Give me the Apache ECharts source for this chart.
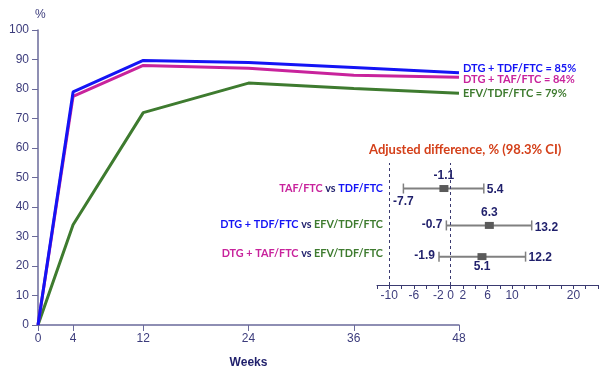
<!DOCTYPE html>
<html><head><meta charset="utf-8">
<script src="https://cdn.jsdelivr.net/npm/echarts@6/dist/echarts.min.js"></script>
<style>html,body{margin:0;padding:0;background:#fff}#c{width:610px;height:374px}</style>
</head><body><div id="c"></div>
<script>
// ---- data ----
const weeks = [0, 4, 12, 24, 36, 48];
const weekTicks = [0, 4, 12, 24, 36, 48];
const dtgTdf = [0, 79, 89.7, 89, 87.3, 85.5];
const dtgTaf = [0, 77.5, 88, 87, 84.7, 84];
const efv = [0, 34, 72, 82, 80.2, 78.6];
const seriesNames = ['DTG + TDF/FTC = 85%', 'DTG + TAF/FTC = 84%', 'EFV/TDF/FTC = 79%'];

const diffTitle = 'Adjusted difference, % (98.3% CI)';
const diffEst = [-1.1, 6.3, 5.1];
const diffLow = [-7.7, -0.7, -1.9];
const diffHigh = [5.4, 13.2, 12.2];
const diffRows = [3.4, 2.1, 1];
const diffTickLabels = [-10, -6, -2, 0, 2, 6, 10, 20];
const refLines = [-10, 0];
const rowLeft = [['TAF/FTC', 'm'], ['DTG + TDF/FTC', 'b'], ['DTG + TAF/FTC', 'm']];
const rowRight = [['TDF/FTC', 'b'], ['EFV/TDF/FTC', 'g'], ['EFV/TDF/FTC', 'g']];
const estLabelPos = ['top', 'top', 'bottom'];
const lowLabelPos = ['bottom', 'left', 'left'];

// ---- styles ----
const BLUE = '#1414f5', MAG = '#c8239c', GREEN = '#3e7b2f', NAVY = '#1f1f6b', AXC = '#3c3c7c';
const CAL = 'Lato, "Open Sans", sans-serif';
const ARI = '"Liberation Sans", Arial, sans-serif';

const chart = echarts.init(document.getElementById('c'), null, {renderer: 'canvas'});

function lineSeries(name, data, color, offY) {
  return {
    name, type: 'line', xAxisIndex: 0, yAxisIndex: 0,
    data: weeks.map((w, i) => [w, data[i]]),
    symbol: 'none', lineStyle: {color, width: 3}, itemStyle: {color},
    animation: false, z: 3,
    endLabel: {show: true, formatter: name, color, fontFamily: CAL, fontWeight: 'bold',
      fontSize: 11, distance: 4, offset: [0, offY]}
  };
}

const forestData = diffEst.map((e, i) => [diffLow[i], diffHigh[i], e, diffRows[i], i]);
const numStyle = {fill: NAVY, font: 'bold 12px ' + ARI};

function renderForest(params, api) {
  const i = api.value(4);
  const row = api.value(3);
  const lo = api.coord([api.value(0), row]);
  const hi = api.coord([api.value(1), row]);
  const es = api.coord([api.value(2), row]);
  const left = api.coord([-12, row]);
  const ch = [];
  ch.push({type: 'line', shape: {x1: lo[0], y1: lo[1], x2: hi[0], y2: hi[1]}, style: {stroke: '#808080', lineWidth: 2}});
  ch.push({type: 'line', shape: {x1: lo[0], y1: lo[1] - 5, x2: lo[0], y2: lo[1] + 5}, style: {stroke: '#808080', lineWidth: 1.5}});
  ch.push({type: 'line', shape: {x1: hi[0], y1: hi[1] - 5, x2: hi[0], y2: hi[1] + 5}, style: {stroke: '#808080', lineWidth: 1.5}});
  ch.push({type: 'rect', shape: {x: es[0] - 4.5, y: es[1] - 3.5, width: 9, height: 7}, style: {fill: '#5a5a5a'}});
  const ep = estLabelPos[i];
  ch.push({type: 'text', x: es[0], y: ep === 'top' ? es[1] - 13 : es[1] + 10,
    style: Object.assign({text: diffEst[i].toFixed(1), align: 'center', verticalAlign: 'middle'}, numStyle)});
  const lp = lowLabelPos[i];
  if (lp === 'bottom') {
    ch.push({type: 'text', x: lo[0], y: lo[1] + 13,
      style: Object.assign({text: diffLow[i].toFixed(1), align: 'center', verticalAlign: 'middle'}, numStyle)});
  } else {
    ch.push({type: 'text', x: lo[0] - 4, y: lo[1] - 1,
      style: Object.assign({text: diffLow[i].toFixed(1), align: 'right', verticalAlign: 'middle'}, numStyle)});
  }
  ch.push({type: 'text', x: hi[0] + 3, y: hi[1] + (i === 1 ? 2 : 1),
    style: Object.assign({text: diffHigh[i].toFixed(1), align: 'left', verticalAlign: 'middle'}, numStyle)});
  const L = rowLeft[i], R = rowRight[i];
  const f = 'bold 12px ' + CAL;
  ch.push({type: 'text', x: left[0] + 6, y: left[1] - (i === 2 ? 4 : 0) - (i === 1 ? 1 : 0), scaleX: 0.9,
    style: {text: '{' + L[1] + '|' + L[0] + '} {n|vs} {' + R[1] + '|' + R[0] + '}',
      align: 'right', verticalAlign: 'middle', font: f,
      rich: {m: {fill: MAG, font: f}, b: {fill: BLUE, font: f}, g: {fill: GREEN, font: f}, n: {fill: NAVY, font: f}}}});
  return {type: 'group', children: ch};
}

chart.setOption({
  animation: false,
  backgroundColor: '#fff',
  title: {text: diffTitle, left: 364, top: 138,
    textStyle: {color: '#d4401a', fontFamily: CAL, fontWeight: 'bold', fontSize: 13}},
  grid: [
    {left: 38, top: 30, width: 421, height: 301},
    {left: 377, top: 163, width: 221, height: 122}
  ],
  xAxis: [
    {type: 'value', gridIndex: 0, min: 0, max: 48,
      name: 'Weeks', nameLocation: 'middle', nameGap: 32,
      nameTextStyle: {color: NAVY, fontFamily: ARI, fontWeight: 'bold', fontSize: 12},
      axisLine: {lineStyle: {color: '#6a6a9a', width: 1.5}},
      axisTick: {show: true, length: 6, customValues: weekTicks, lineStyle: {color: '#6a6a9a'}},
      axisLabel: {customValues: weekTicks, color: AXC, fontFamily: ARI, fontSize: 12, margin: 8},
      splitLine: {show: false}},
    {type: 'value', gridIndex: 1, min: -12, max: 24, interval: 2,
      axisLine: {onZero: false, lineStyle: {color: '#3a3a70', width: 1}},
      axisTick: {show: true, length: 4, lineStyle: {color: '#3a3a70'}},
      axisLabel: {customValues: diffTickLabels, color: AXC, fontFamily: ARI, fontSize: 12, margin: 5},
      splitLine: {show: false}}
  ],
  yAxis: [
    {type: 'value', gridIndex: 0, min: 0, max: 100, interval: 10,
      name: '%', nameLocation: 'end', nameGap: 9,
      nameTextStyle: {color: AXC, fontFamily: ARI, fontSize: 12, align: 'left', padding: [0, 0, 0, -3]},
      axisLine: {show: true, lineStyle: {color: '#6a6a9a', width: 1.5}},
      axisTick: {show: true, length: 6, lineStyle: {color: '#6a6a9a'}},
      axisLabel: {color: AXC, fontFamily: ARI, fontSize: 12, margin: 9},
      splitLine: {show: false}},
    {type: 'value', gridIndex: 1, min: 0, max: 4.3, show: false}
  ],
  series: [
    lineSeries(seriesNames[2], efv, GREEN, 0),
    lineSeries(seriesNames[1], dtgTaf, MAG, 2.5),
    lineSeries(seriesNames[0], dtgTdf, BLUE, -4),
    {type: 'custom', xAxisIndex: 1, yAxisIndex: 1, data: forestData,
      encode: {x: [0, 1, 2], y: 3}, renderItem: renderForest, clip: false,
      markLine: {silent: true, symbol: 'none', label: {show: false},
        lineStyle: {type: [3, 3], color: '#3a3a70', width: 1},
        data: refLines.map(v => ({xAxis: v}))}}
  ]
});
</script></body></html>
